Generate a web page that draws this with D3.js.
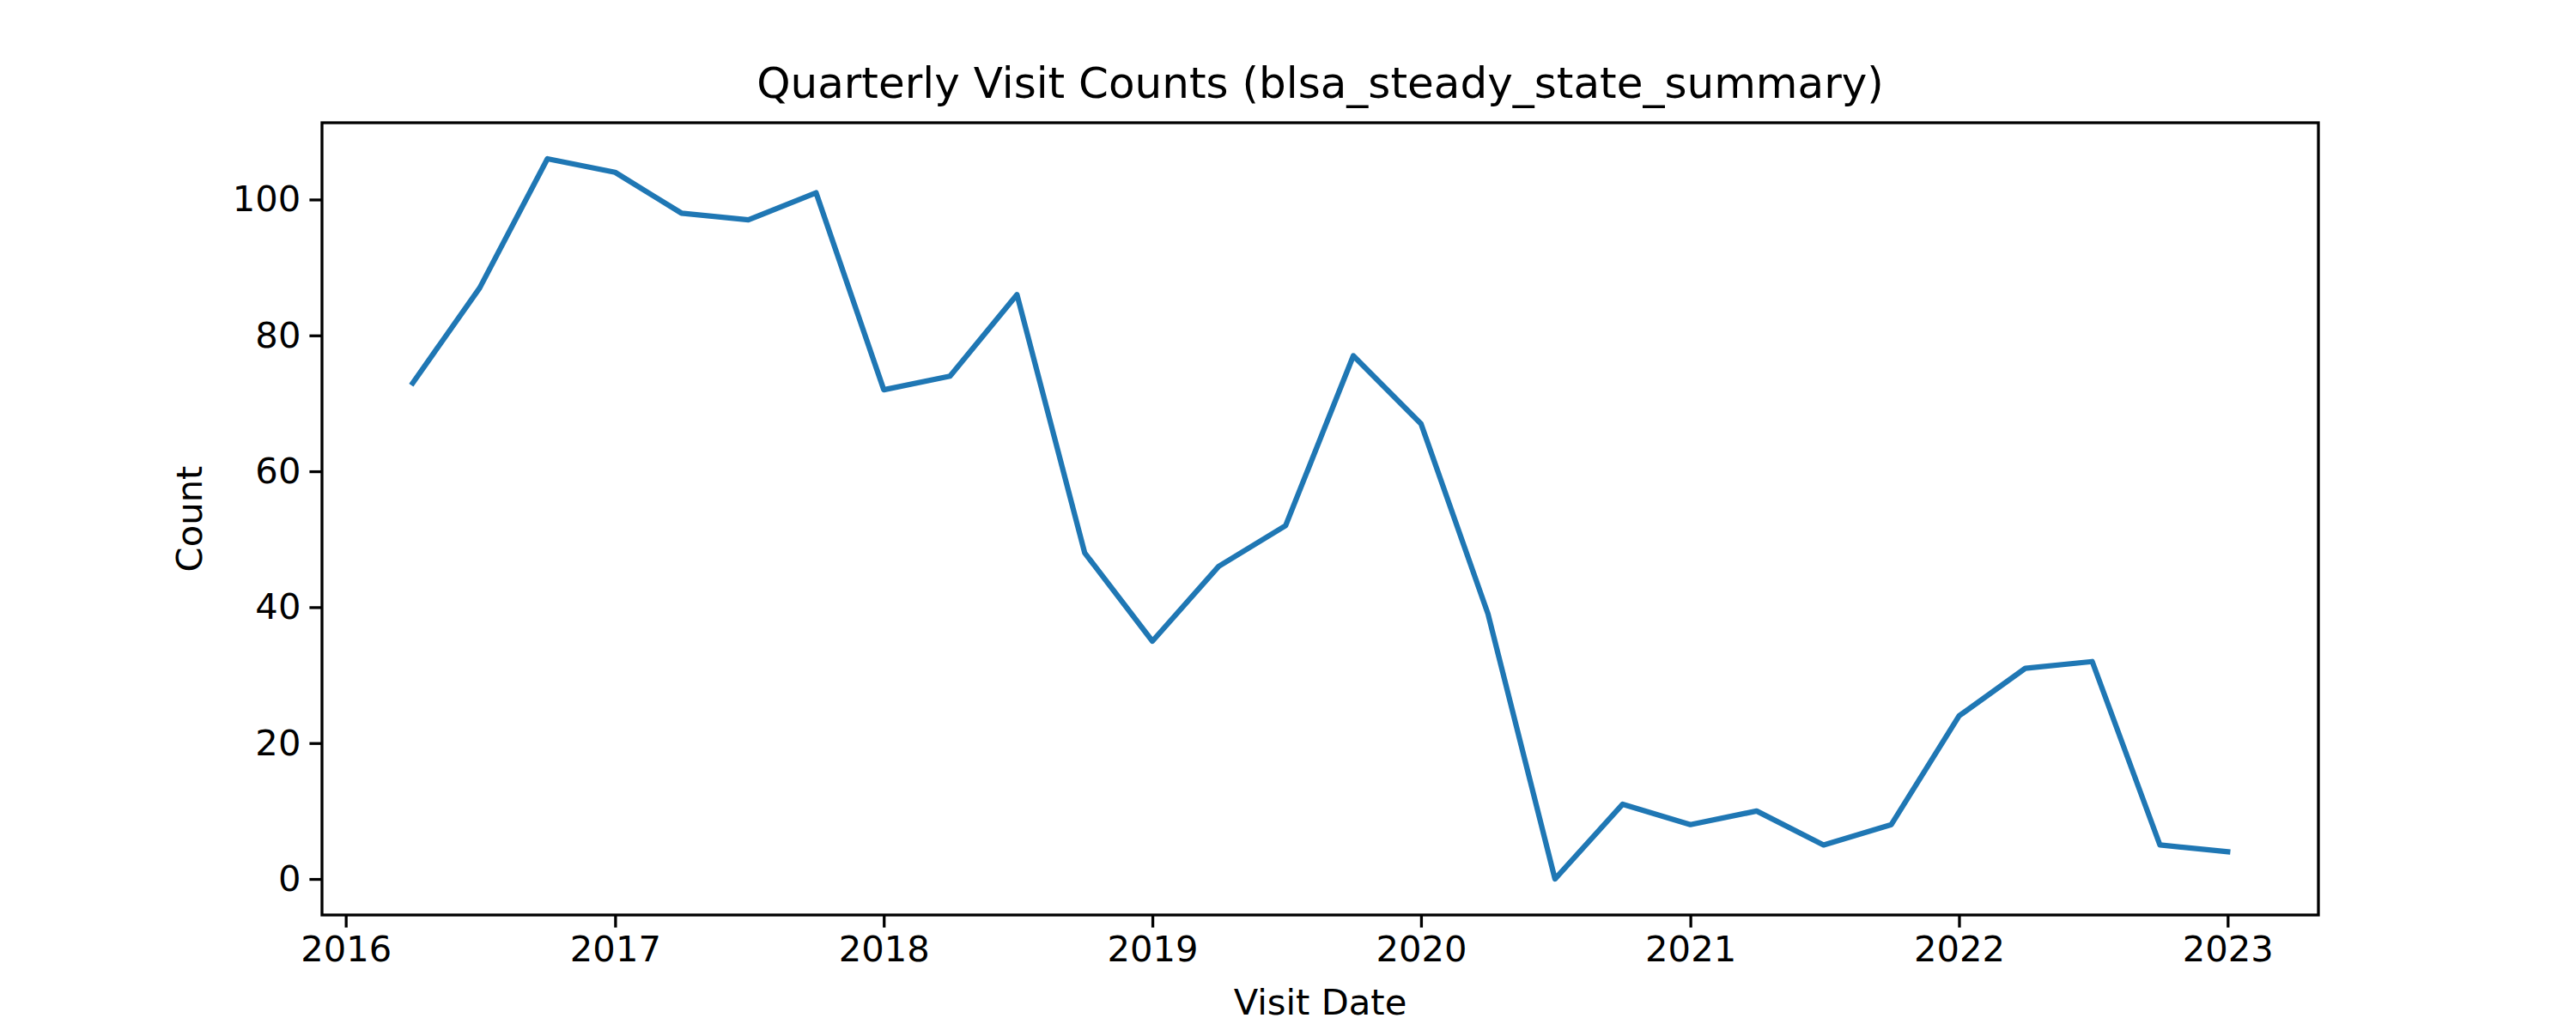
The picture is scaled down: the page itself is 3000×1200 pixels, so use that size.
<!DOCTYPE html>
<html>
<head>
<meta charset="utf-8">
<script src="https://cdn.jsdelivr.net/npm/d3@7"></script>
<style>
  body { margin: 0; background: #fff; }
  text { font-family: "DejaVu Sans", sans-serif; }
</style>
</head>
<body>
<div id="chart"></div>
<script>
// Quarterly visit dates (quarter starts) and counts
const dates = [
  "2016-04-01", "2016-07-01", "2016-10-01",
  "2017-01-01", "2017-04-01", "2017-07-01", "2017-10-01",
  "2018-01-01", "2018-04-01", "2018-07-01", "2018-10-01",
  "2019-01-01", "2019-04-01", "2019-07-01", "2019-10-01",
  "2020-01-01", "2020-04-01", "2020-07-01", "2020-10-01",
  "2021-01-01", "2021-04-01", "2021-07-01", "2021-10-01",
  "2022-01-01", "2022-04-01", "2022-07-01", "2022-10-01",
  "2023-01-01"
];
const counts = [73, 87, 106, 104, 98, 97, 101, 72, 74, 86, 48, 35, 46, 52, 77, 67, 39, 0, 11, 8, 10, 5, 8, 24, 31, 32, 5, 4];
const yTicks = [0, 20, 40, 60, 80, 100];
const xTickYears = [2016, 2017, 2018, 2019, 2020, 2021, 2022, 2023];

const W = 3000, H = 1200;
const margin = { top: 143, right: 300, bottom: 134, left: 375 };
const width = W - margin.left - margin.right,
      height = H - margin.top - margin.bottom;

const parse = d3.timeParse("%Y-%m-%d");
const data = dates.map((d, i) => ({ date: parse(d), count: counts[i] }));

const svg = d3.select("#chart").append("svg")
    .attr("width", W).attr("height", H);
const g = svg.append("g").attr("transform", `translate(${margin.left},${margin.top})`);

// x scale with matplotlib-like 5% margins
const x0 = data[0].date.getTime(), x1 = data[data.length - 1].date.getTime();
const xPad = (x1 - x0) * 0.05;
const x = d3.scaleTime()
    .domain([new Date(x0 - xPad), new Date(x1 + xPad)])
    .range([0, width]);

const yMax = d3.max(counts), yPad = yMax * 0.05;
const y = d3.scaleLinear()
    .domain([-yPad, yMax + yPad])
    .range([height, 0]);

// Axes
const xAxis = g.append("g")
    .attr("transform", `translate(0,${height})`)
    .call(d3.axisBottom(x)
        .tickValues(xTickYears.map(yr => new Date(yr, 0, 1)))
        .tickFormat(d3.timeFormat("%Y"))
        .tickSize(14.6).tickPadding(10));
const yAxis = g.append("g")
    .call(d3.axisLeft(y).tickValues(yTicks).tickSize(14.6).tickPadding(10));

[xAxis, yAxis].forEach(a => {
  a.select(".domain").remove();
  a.selectAll("line").attr("stroke", "#000").attr("stroke-width", 3.3);
  a.selectAll("text").attr("font-size", 41.7).attr("fill", "#000")
      .attr("font-family", "DejaVu Sans");
});

// Line
g.append("path")
    .datum(data)
    .attr("fill", "none")
    .attr("stroke", "#1f77b4")
    .attr("stroke-width", 6.25)
    .attr("stroke-linejoin", "round")
    .attr("stroke-linecap", "square")
    .attr("d", d3.line().x(d => x(d.date)).y(d => y(d.count)));

// Frame
g.append("rect")
    .attr("width", width).attr("height", height)
    .attr("fill", "none").attr("stroke", "#000").attr("stroke-width", 3.3);

// Title and axis labels
g.append("text")
    .attr("x", width / 2).attr("y", -29)
    .attr("text-anchor", "middle")
    .attr("font-size", 50)
    .text("Quarterly Visit Counts (blsa_steady_state_summary)");

g.append("text")
    .attr("x", width / 2).attr("y", height + 116)
    .attr("text-anchor", "middle")
    .attr("font-size", 41.7)
    .text("Visit Date");

g.append("text")
    .attr("transform", "rotate(-90)")
    .attr("x", -height / 2).attr("y", -140)
    .attr("text-anchor", "middle")
    .attr("font-size", 41.7)
    .text("Count");
</script>
</body>
</html>
